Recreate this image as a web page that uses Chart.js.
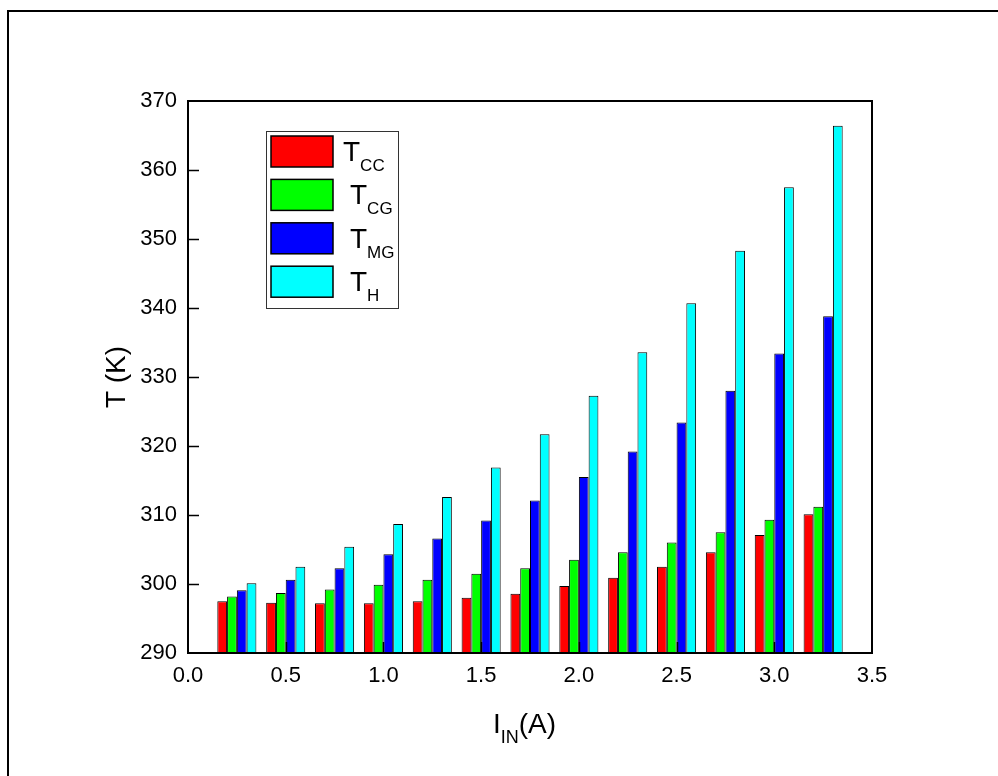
<!DOCTYPE html>
<html>
<head>
<meta charset="utf-8">
<script src="https://cdn.jsdelivr.net/npm/chart.js@4.4.1/dist/chart.umd.min.js"></script>
<style>
  html, body { margin: 0; padding: 0; background: #fff; }
  canvas { display: block; }
</style>
</head>
<body>
<canvas id="tempChart" width="998" height="776"></canvas>
<script>
// input current (A)
const currents = [0.25, 0.5, 0.75, 1.0, 1.25, 1.5, 1.75, 2.0, 2.25, 2.5, 2.75, 3.0, 3.25];

// temperatures (K)
const tCC = [297.5, 297.3, 297.2, 297.2, 297.5, 298.0, 298.6, 299.7, 300.9, 302.5, 304.6, 307.1, 310.1];
const tCG = [298.2, 298.7, 299.2, 299.9, 300.6, 301.5, 302.3, 303.5, 304.6, 306.0, 307.5, 309.3, 311.2];
const tMG = [299.1, 300.6, 302.3, 304.3, 306.6, 309.2, 312.1, 315.5, 319.2, 323.4, 328.0, 333.4, 338.8];
const tH  = [300.1, 302.5, 305.4, 308.7, 312.6, 316.9, 321.7, 327.3, 333.6, 340.7, 348.3, 357.5, 366.4];

const seriesSubs = ['CC', 'CG', 'MG', 'H'];
const seriesColors = ['#ff0000', '#00ff00', '#0000ff', '#00ffff'];
const seriesData = [tCC, tCG, tMG, tH];

const xTicks = [0, 0.5, 1.0, 1.5, 2.0, 2.5, 3.0, 3.5];
const yMin = 290, yMax = 370, yStep = 10;

const FONT = '"Liberation Sans", Arial, sans-serif';

function toPoints(vals) {
  return vals.map((v, i) => ({ x: currents[i], y: v }));
}

const datasets = seriesData.map((vals, i) => ({
  label: 'T' + seriesSubs[i],
  data: toPoints(vals),
  backgroundColor: seriesColors[i],
  borderColor: '#000',
  borderWidth: 1,
  base: yMin,
  categoryPercentage: 0.8,
  barPercentage: 1.0
}));

// page frame, plot frame, inward ticks, legend and axis titles with subscripts
const decorations = {
  id: 'decorations',
  beforeDraw(chart) {
    const c = chart.ctx;
    c.save();
    c.fillStyle = '#fff';
    c.fillRect(0, 0, chart.width, chart.height);
    c.strokeStyle = '#000';
    c.lineWidth = 2;
    c.beginPath();
    c.moveTo(8, 776);
    c.lineTo(8, 11);
    c.lineTo(998, 11);
    c.stroke();
    c.restore();
  },
  afterDatasetsDraw(chart) {
    const c = chart.ctx;
    const a = chart.chartArea;
    const xs = chart.scales.x, ys = chart.scales.y;
    c.save();
    c.strokeStyle = '#000';
    c.lineWidth = 2;
    c.strokeRect(a.left, a.top, a.right - a.left, a.bottom - a.top);

    c.lineWidth = 1.5;
    c.beginPath();
    for (let v = yMin + yStep; v < yMax; v += yStep) {
      const y = Math.round(ys.getPixelForValue(v)) + 0.5;
      c.moveTo(a.left, y);
      c.lineTo(a.left + 11, y);
    }
    xTicks.slice(1, -1).forEach(v => {
      const x = Math.round(xs.getPixelForValue(v)) + 0.5;
      c.moveTo(x, a.bottom);
      c.lineTo(x, a.bottom - 11);
    });
    c.stroke();

    // legend
    c.lineWidth = 1;
    c.strokeStyle = '#333';
    c.strokeRect(266.5, 131.5, 132, 177);
    chart.data.datasets.forEach((ds, i) => {
      const top = 136 + i * 43.4;
      c.fillStyle = ds.backgroundColor;
      c.fillRect(271, top, 62, 31);
      c.strokeStyle = '#000';
      c.lineWidth = 1.5;
      c.strokeRect(271, top, 62, 31);
      const tx = i === 0 ? 343 : 350;
      c.fillStyle = '#000';
      c.textAlign = 'left';
      c.textBaseline = 'alphabetic';
      c.font = '28px ' + FONT;
      c.fillText('T', tx, top + 25);
      const w = c.measureText('T').width;
      c.font = '17px ' + FONT;
      c.fillText(seriesSubs[i], tx + w, top + 35);
    });

    // y title
    c.fillStyle = '#000';
    c.font = '28px ' + FONT;
    c.save();
    c.translate(125, 377);
    c.rotate(-Math.PI / 2);
    c.textAlign = 'center';
    c.textBaseline = 'alphabetic';
    c.fillText('T (K)', 0, 0);
    c.restore();

    // x title
    c.textAlign = 'left';
    c.textBaseline = 'alphabetic';
    let x = 493;
    c.font = '28px ' + FONT;
    c.fillText('I', x, 733);
    x += c.measureText('I').width;
    c.font = '18px ' + FONT;
    c.fillText('IN', x, 743);
    x += c.measureText('IN').width;
    c.font = '28px ' + FONT;
    c.fillText('(A)', x, 733);
    c.restore();
  }
};

const ctx = document.getElementById('tempChart').getContext('2d');
const tempChart = new Chart(ctx, {
  type: 'bar',
  data: { datasets: datasets },
  options: {
    responsive: false,
    animation: false,
    layout: { padding: { left: 0, top: 101, right: 126, bottom: 0 } },
    plugins: {
      legend: { display: false },
      tooltip: { enabled: false }
    },
    scales: {
      x: {
        type: 'linear',
        min: 0,
        max: 3.5,
        offset: false,
        grid: { display: false, drawTicks: false },
        border: { display: false },
        afterBuildTicks: s => { s.ticks = xTicks.map(v => ({ value: v })); },
        afterFit: s => { s.height = 123; },
        ticks: {
          color: '#000',
          padding: 10,
          maxRotation: 0,
          font: { family: FONT, size: 22 },
          callback: v => Number(v).toFixed(1)
        }
      },
      y: {
        min: yMin,
        max: yMax,
        grid: { display: false, drawTicks: false },
        border: { display: false },
        afterFit: s => { s.width = 188; },
        ticks: {
          stepSize: yStep,
          color: '#000',
          padding: 11,
          font: { family: FONT, size: 22 }
        }
      }
    }
  },
  plugins: [decorations]
});
</script>
</body>
</html>
